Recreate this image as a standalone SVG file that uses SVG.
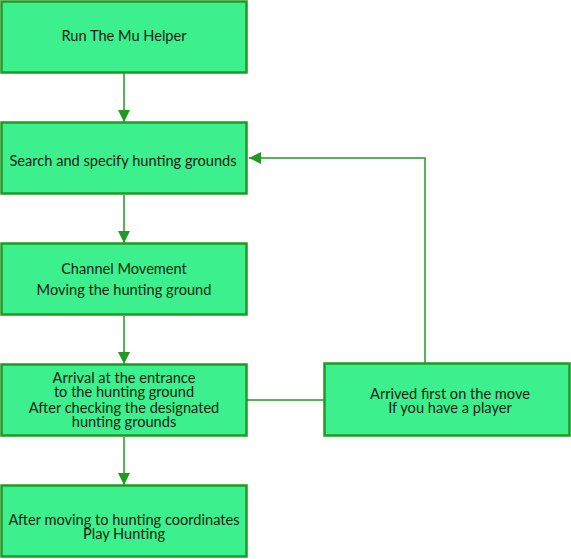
<svg xmlns="http://www.w3.org/2000/svg" width="571" height="559" viewBox="0 0 571 559">
<style>
.box{fill:#3cf08d;stroke:#1f9a23;stroke-width:2.5}
.t{font-family:Lato,"Liberation Sans",sans-serif;font-size:14.6px;fill:#142414;text-anchor:middle;dominant-baseline:central}
.c{fill:none;stroke:#1f9a23;stroke-width:1.5}
</style>
<defs>
<marker id="ah" markerWidth="12" markerHeight="12" refX="12" refY="6" orient="auto" markerUnits="userSpaceOnUse">
<path d="M0,0 L12,6 L0,12 Z" fill="#1f9a23"/>
</marker>
</defs>
<g id="connectors">
<line class="c" x1="124" y1="73" x2="124" y2="122" marker-end="url(#ah)"/>
<line class="c" x1="124" y1="195" x2="124" y2="243" marker-end="url(#ah)"/>
<line class="c" x1="124" y1="316" x2="124" y2="364" marker-end="url(#ah)"/>
<line class="c" x1="124" y1="437" x2="124" y2="485" marker-end="url(#ah)"/>
<line class="c" x1="247" y1="400" x2="324" y2="400"/>
<polyline class="c" points="425,363 425,158 249,158" stroke="#3a7f3a" marker-end="url(#ah)"/>
</g>
<g id="n1"><rect class="box" x="1.5" y="1.5" width="245" height="71"/><text class="t" x="124" y="35">Run The Mu Helper</text></g>
<g id="n2"><rect class="box" x="1.5" y="122.5" width="245" height="71"/><text class="t" x="123" y="160">Search and specify hunting grounds</text></g>
<g id="n3"><rect class="box" x="1.5" y="243.5" width="245" height="71"/><text class="t" x="124" y="268">Channel Movement</text><text class="t" x="124" y="289">Moving the hunting ground</text></g>
<g id="n4"><rect class="box" x="1.5" y="364.5" width="245" height="71"/><text class="t" x="124" y="377">Arrival at the entrance</text><text class="t" x="124" y="391">to the hunting ground</text><text class="t" x="124" y="407">After checking the designated</text><text class="t" x="124" y="421">hunting grounds</text></g>
<g id="n5"><rect class="box" x="1.5" y="485.5" width="245" height="71"/><text class="t" x="124" y="519">After moving to hunting coordinates</text><text class="t" x="124" y="533">Play Hunting</text></g>
<g id="n6"><rect class="box" x="324.5" y="363.5" width="245" height="72"/><text class="t" x="450" y="393">Arrived first on the move</text><text class="t" x="450" y="407">If you have a player</text></g>
</svg>
